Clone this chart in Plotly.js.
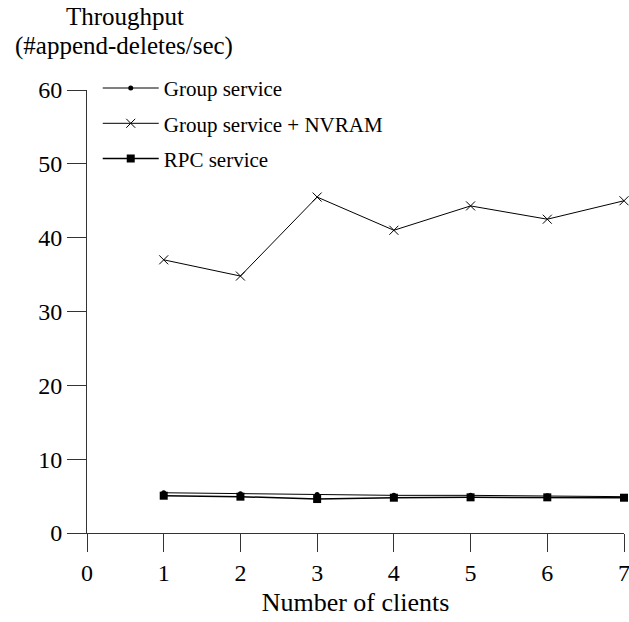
<!DOCTYPE html>
<html>
<head>
<meta charset="utf-8">
<script src="https://cdn.plot.ly/plotly-3.0.1.min.js"></script>
<style>
  html, body { margin: 0; padding: 0; background: #fff; }
  #chart { width: 629px; height: 622px; }
</style>
</head>
<body>
<div id="chart"></div>
<script>
const clients = [1, 2, 3, 4, 5, 6, 7];
const groupService = [5.45, 5.3, 5.2, 5.1, 5.1, 5.05, 4.92];
const groupServiceNvram = [37.0, 34.8, 45.5, 41.0, 44.3, 42.5, 45.0];
const rpcService = [5.05, 4.92, 4.6, 4.78, 4.83, 4.83, 4.78];
const seriesNames = ["Group service", "Group service + NVRAM", "RPC service"];
const xTicks = [0, 1, 2, 3, 4, 5, 6, 7];
const yTicks = [0, 10, 20, 30, 40, 50, 60];

const FONT = "Liberation Serif, Times New Roman, serif";

const traces = [
  {
    x: clients, y: groupService, name: seriesNames[0], mode: "lines+markers",
    legendgroup: "a",
    line: { color: "#000", width: 1 },
    marker: { symbol: "circle", size: 5, color: "#000" },
    cliponaxis: false
  },
  {
    x: clients, y: groupServiceNvram, name: seriesNames[1], mode: "lines+markers",
    legendgroup: "b",
    line: { color: "#000", width: 1 },
    marker: { symbol: "x-thin", size: 9, color: "#000", line: { color: "#000", width: 1 } },
    cliponaxis: false
  },
  {
    x: clients, y: rpcService, name: seriesNames[2], mode: "lines+markers",
    legendgroup: "c",
    line: { color: "#000", width: 1.5 },
    marker: { symbol: "square", size: 8, color: "#000" },
    cliponaxis: false
  }
];

const layout = {
  width: 629, height: 622,
  margin: { l: 87, r: 5, t: 90, b: 89 },
  paper_bgcolor: "#fff", plot_bgcolor: "#fff",
  font: { family: FONT, color: "#000", size: 22 },
  showlegend: true,
  legend: {
    x: 0.02, y: 1.05, xanchor: "left", yanchor: "top",
    font: { family: FONT, size: 21, color: "#000" },
    bgcolor: "rgba(0,0,0,0)", tracegroupgap: 5, itemwidth: 56
  },
  xaxis: {
    range: [0, 7], tickvals: xTicks, ticktext: xTicks.map(String),
    ticks: "outside", ticklen: 18, tickwidth: 1, tickcolor: "#333",
    showline: true, linecolor: "#333", linewidth: 1,
    showgrid: false, zeroline: false, ticklabeloverflow: "allow",
    tickfont: { family: FONT, size: 24 },
    title: { text: "Number of clients", font: { family: FONT, size: 26 }, standoff: 8 }
  },
  yaxis: {
    range: [0, 60], tickvals: yTicks, ticktext: yTicks.map(String),
    ticks: "outside", ticklen: 19, tickwidth: 1, tickcolor: "#333",
    showline: true, linecolor: "#333", linewidth: 1,
    showgrid: false, zeroline: false,
    tickfont: { family: FONT, size: 24 }
  },
  annotations: [
    {
      xref: "paper", yref: "paper", x: 0.07, y: 1.167, xanchor: "center", yanchor: "middle",
      text: "Throughput", showarrow: false, font: { family: FONT, size: 25 }
    },
    {
      xref: "paper", yref: "paper", x: 0.068, y: 1.1, xanchor: "center", yanchor: "middle",
      text: "(#append-deletes/sec)", showarrow: false, font: { family: FONT, size: 25 }
    }
  ]
};

Plotly.newPlot("chart", traces, layout, { displayModeBar: false, staticPlot: true });
</script>
</body>
</html>
